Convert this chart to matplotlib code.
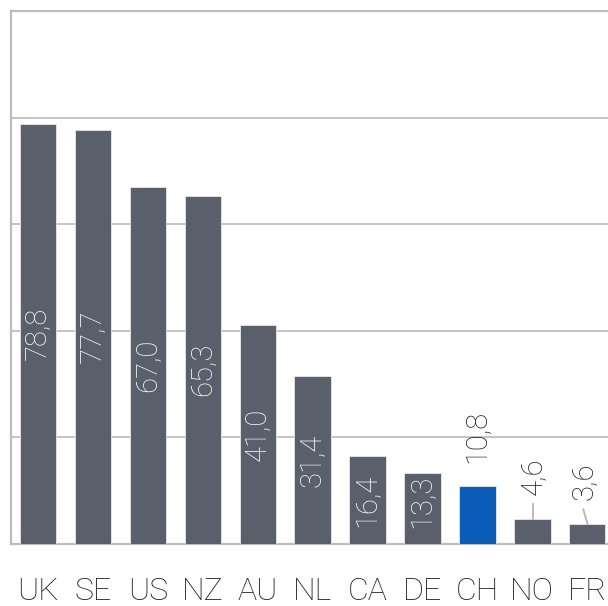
import matplotlib

matplotlib.use("Agg")
import matplotlib.pyplot as plt
import numpy as np

countries = ["UK", "SE", "US", "NZ", "AU", "NL", "CA", "DE", "CH", "NO", "FR"]
values = [78.8, 77.7, 67.0, 65.3, 41.0, 31.4, 16.4, 13.3, 10.8, 4.6, 3.6]
highlight = "CH"

GREY = "#5a606b"
BLUE = "#0a5cb8"
LINE = "#c4c4c4"

plt.rcParams["font.family"] = ["Roboto", "DejaVu Sans"]

fig = plt.figure(figsize=(6.08, 6.06), dpi=100)
ax = fig.add_axes([10.5 / 608, 62.5 / 606, 1 - 10.5 / 608, 532.5 / 606])

x = np.arange(len(countries))
colors = [BLUE if c == highlight else GREY for c in countries]
ax.bar(x, values, width=0.665, color=colors, edgecolor="#e6e8ec", linewidth=0.6, zorder=3)

ax.set_xlim(-0.505, 10.38)
ax.set_ylim(0, 100)
ax.set_yticks([20, 40, 60, 80])
ax.yaxis.grid(True, color=LINE, linewidth=1.4, zorder=0)
ax.tick_params(axis="y", left=False, labelleft=False)
ax.tick_params(axis="x", length=0, pad=24, labelsize=23, labelcolor="#1a1a1a")
ax.set_xticks(x, countries)
for label in ax.get_xticklabels():
    label.set_fontweight("light")
for side in ("left", "top", "bottom"):
    ax.spines[side].set_color("#bdbdbd")
    ax.spines[side].set_linewidth(1.6)
ax.spines["right"].set_visible(False)

for i, (c, v) in enumerate(zip(countries, values)):
    text = f"{v:.1f}".replace(".", ",")
    if v > 12:
        ax.text(i, max(v / 2, 8.0), text, rotation=90, ha="center", va="center",
                color="white", fontsize=21, fontweight="light", zorder=4)
    elif c == highlight:
        ax.text(i, v + 4.3, text, rotation=90, ha="center", va="bottom",
                color="#1a1a1a", fontsize=21, fontweight="light", zorder=4)
    else:
        dx = 0.0 if c == "NO" else -0.08
        ax.plot([i + 0.01, i + dx + 0.01], [v, v + 2.8], color="#b5b5b5", linewidth=1.3, zorder=4)
        ax.text(i + dx + 0.03, v + 4.5, text, rotation=90, ha="center", va="bottom",
                color="#1a1a1a", fontsize=21, fontweight="light", zorder=4)

fig.savefig("out.png", dpi=100)
